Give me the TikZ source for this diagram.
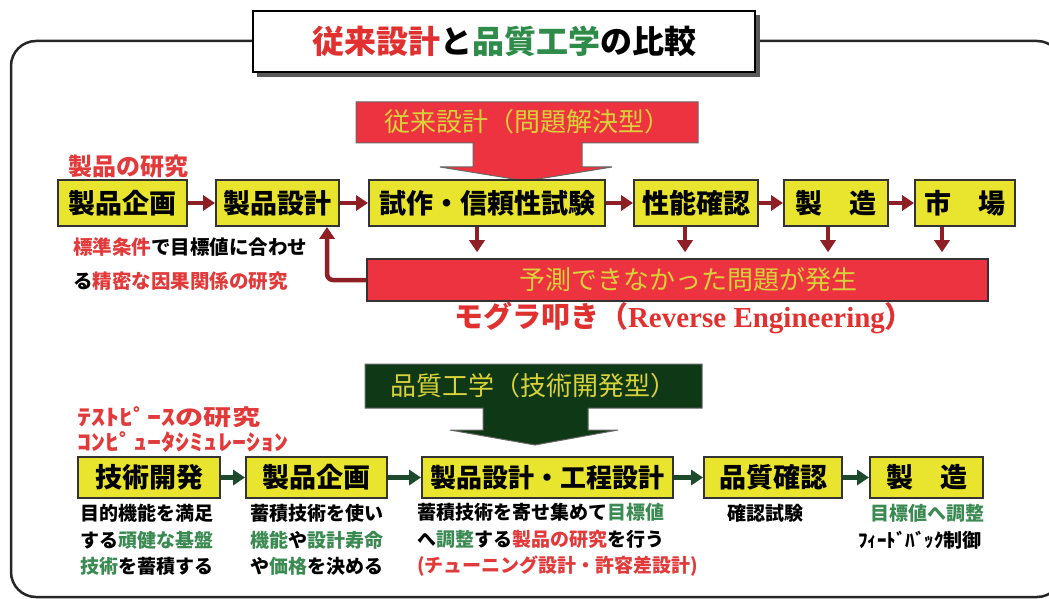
\documentclass[tikz,border=0pt]{standalone}
\usepackage{fontspec}
\setmainfont{Noto Sans CJK JP}
\newfontfamily\serifb{Liberation Serif}
\usetikzlibrary{arrows.meta}
\definecolor{boxy}{HTML}{E9E52E}
\definecolor{redf}{HTML}{EE3340}
\definecolor{greenf}{HTML}{0F3816}
\definecolor{rarr}{HTML}{8E1F24}
\definecolor{garr}{HTML}{1D4A2B}
\definecolor{rtext}{HTML}{E23A3A}
\definecolor{gtext}{HTML}{3A8A52}
\definecolor{calltext}{HTML}{D9D23A}
\definecolor{ttlred}{HTML}{E03030}
\definecolor{ttlgreen}{HTML}{2E8B4A}
\newcommand{\rtx}[1]{\textcolor{rtext}{#1}}
\newcommand{\gtx}[1]{\textcolor{gtext}{#1}}
\tikzset{
  ybox/.style={draw=black!80, line width=1.8bp, fill=boxy, inner sep=0pt,
    font=\bfseries\fontsize{27bp}{27bp}\selectfont},
  rarrow/.style={draw=rarr, line width=4.5bp, -{Triangle[width=15bp,length=12bp]}},
  garrow/.style={draw=garr, line width=4.5bp, -{Triangle[width=15bp,length=12bp]}},
  small/.style={font=\bfseries\fontsize{19bp}{26.5bp}\selectfont, align=left, inner sep=0pt},
  callout/.style={draw=black!60, line width=1bp},
}
\begin{document}
\begin{tikzpicture}[x=1bp,y=-1bp]
\useasboundingbox (0,0) rectangle (1049,599);
% outer frame
\begin{scope}
\clip (0,0) rectangle (1049,599);
\draw[line width=2.5bp, black!85, rounded corners=25bp] (11,41) rectangle (1062,597);
\end{scope}
% title
\fill[black!65] (257,15) rectangle (760,77);
\node[draw=black, line width=2bp, fill=white, minimum width=502bp, minimum height=61bp, inner sep=0pt,
  font=\bfseries\fontsize{32bp}{32bp}\selectfont] (title) at (504,41.5)
  {\textcolor{ttlred}{従来設計}と\textcolor{ttlgreen}{品質工学}の比較};

% ---------- conventional design ----------
\path[callout, fill=redf] (356,102) -- (698,102) -- (698,143) -- (582,143) -- (582,167) -- (612,167)
  -- (526,181) -- (440,167) -- (473,167) -- (473,143) -- (356,143) -- cycle;
\node[font=\fontsize{26bp}{26bp}\selectfont, text=calltext] (rcall) at (527,122) {従来設計（問題解決型）};

\node[font=\bfseries\fontsize{24bp}{24bp}\selectfont, text=rtext] (lab1) at (128.5,166) {製品の研究};

\node[ybox, minimum width=129bp, minimum height=46bp] (p1) at (122.5,203) {製品企画};
\node[ybox, minimum width=123bp, minimum height=46bp] (d1) at (277.5,203) {製品設計};
\node[ybox, minimum width=236bp, minimum height=46bp] (proto) at (487,203) {試作・信頼性試験};
\node[ybox, minimum width=124bp, minimum height=46bp] (perf) at (696,203) {性能確認};
\node[ybox, minimum width=104bp, minimum height=46bp] (m1) at (836,203) {製　造};
\node[ybox, minimum width=100bp, minimum height=46bp] (mkt) at (965,203) {市　場};

\node[draw=black!80, line width=1.5bp, fill=redf, minimum width=621bp, minimum height=42bp, inner sep=0pt,
  font=\fontsize{26bp}{26bp}\selectfont, text=calltext] (bar) at (677.5,280)
  {\hspace*{21bp}予測できなかった問題が発生};

\draw[rarrow] (p1) -- (d1);
\draw[rarrow] (d1) -- (proto);
\draw[rarrow] (proto) -- (perf);
\draw[rarrow] (perf) -- (m1);
\draw[rarrow] (m1) -- (mkt);
\draw[rarrow, shorten >=6bp] ([xshift=-10bp]proto.south) -- ([xshift=-10bp]proto.south |- bar.north);
\draw[rarrow, shorten >=6bp] ([xshift=-11bp]perf.south) -- ([xshift=-11bp]perf.south |- bar.north);
\draw[rarrow, shorten >=6bp] ([xshift=-8bp]m1.south) -- ([xshift=-8bp]m1.south |- bar.north);
\draw[rarrow, shorten >=6bp] ([xshift=-23bp]mkt.south) -- ([xshift=-23bp]mkt.south |- bar.north);
\draw[rarrow, rounded corners=6bp] (bar.west) -| ([xshift=49.5bp]d1.south);

\node[small, font=\bfseries\fontsize{19.5bp}{34bp}\selectfont, anchor=west] (note1) at (73,264.5)
  {\rtx{標準条件}で目標値に合わせ\\る\rtx{精密な因果関係の研究}};

\node[font=\bfseries\fontsize{29bp}{29bp}\selectfont, text=ttlred] (mole) at (684,318)
  {モグラ叩き（{\serifb Reverse Engineering}）};

% ---------- quality engineering ----------
\path[callout, fill=greenf] (365,364) -- (702,364) -- (702,408) -- (588,408) -- (588,430) -- (618,430)
  -- (535,445) -- (450,430) -- (483,430) -- (483,408) -- (365,408) -- cycle;
\node[font=\fontsize{26bp}{26bp}\selectfont, text=calltext] (gcall) at (533,386) {品質工学（技術開発型）};

\node[font=\bfseries\fontsize{22bp}{22bp}\selectfont, text=rtext, anchor=west, inner sep=0pt] (lab2) at (77,417)
  {\scalebox{1.28}[1]{ﾃｽﾄﾋﾟｰｽの研究}};
\node[font=\bfseries\fontsize{22bp}{22bp}\selectfont, text=rtext, anchor=west, inner sep=0pt] (lab3) at (77,442)
  {\scalebox{1.28}[1]{ｺﾝﾋﾟｭｰﾀｼﾐｭﾚｰｼｮﾝ}};

\node[ybox, minimum width=142bp, minimum height=41bp] (g1) at (149,477.5) {技術開発};
\node[ybox, minimum width=141bp, minimum height=41bp] (g2) at (316.5,477.5) {製品企画};
\node[ybox, minimum width=251bp, minimum height=41bp, font=\bfseries\fontsize{26bp}{26bp}\selectfont] (g3) at (547.5,477.5) {製品設計・工程設計};
\node[ybox, minimum width=138bp, minimum height=41bp] (g4) at (773,477.5) {品質確認};
\node[ybox, minimum width=113bp, minimum height=41bp] (g5) at (926.5,477.5) {製　造};

\draw[garrow] (g1) -- (g2);
\draw[garrow] (g2) -- (g3);
\draw[garrow] (g3) -- (g4);
\draw[garrow] (g4) -- (g5);

\node[small, anchor=west] (t1) at (80,540) {目的機能を満足\\する\gtx{頑健な基盤}\\\gtx{技術}を蓄積する};
\node[small, anchor=west] (t2) at (250,540) {蓄積技術を使い\\\gtx{機能}や\gtx{設計寿命}\\や\gtx{価格}を決める};
\node[small, anchor=west] (t3) at (417,540) {蓄積技術を寄せ集めて\gtx{目標値}\\へ\gtx{調整}する\rtx{製品の研究}を行う\\\rtx{(チューニング設計・許容差設計)}};
\node[small] (t4) at (765,513) {確認試験};
\node[small] (t5) at (927,513) {\gtx{目標値へ調整}};
\node[small] (t6) at (920,540) {ﾌｨｰﾄﾞﾊﾞｯｸ制御};
\end{tikzpicture}
\end{document}
